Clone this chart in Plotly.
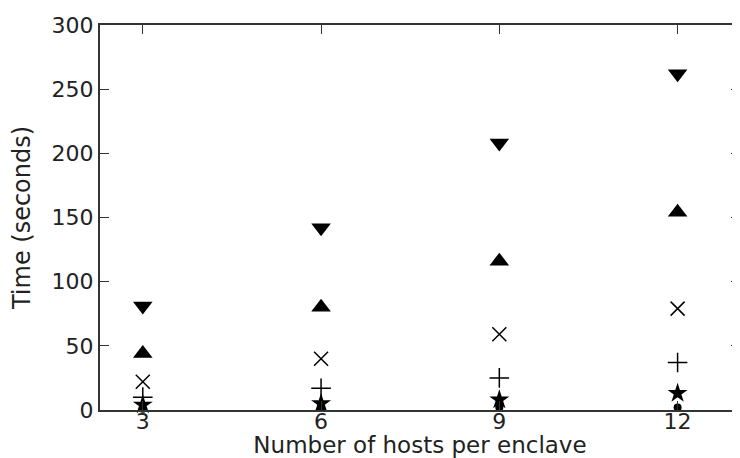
import plotly.graph_objects as go

hosts = [3, 6, 9, 12]
tick_labels = ["3", "6", "9", "12"]
s_down = [81, 142, 208, 262]
s_up = [44, 80, 116, 154]
s_x = [22, 40, 59, 79]
s_plus = [10, 17, 25, 37]
s_star = [4, 5, 8, 13]
s_dot = [1, 1.5, 2, 2]

fig = go.Figure()
series = [
    (s_down, "triangle-down", 17, 0),
    (s_up, "triangle-up", 17, 0),
    (s_x, "x-thin-open", 14, 1.5),
    (s_plus, "cross-thin-open", 14, 1.5),
    (s_star, "star", 15, 0),
    (s_dot, "circle", 8, 0),
]
for vals, sym, size, lw in series:
    fig.add_trace(go.Scatter(
        x=hosts, y=vals, mode="markers",
        marker=dict(symbol=sym, size=size, color="black",
                    line=dict(width=lw, color="black")),
        showlegend=False, cliponaxis=False))

axis_common = dict(
    showgrid=False, zeroline=False, showline=True, linewidth=2, linecolor="#333",
    mirror="ticks", ticks="inside", ticklen=9, tickwidth=1, tickcolor="#333",
    tickfont=dict(family="DejaVu Sans", size=22, color="#222"),
    automargin=False,
)
fig.update_xaxes(range=[2.28, 13.05], tickvals=hosts, ticktext=tick_labels,
                 ticklabelstandoff=-9,
                 title=dict(text="Number of hosts per enclave",
                            font=dict(family="DejaVu Sans", size=23, color="#222"),
                            standoff=7), **axis_common)
fig.update_yaxes(range=[0, 300], tickvals=[0, 50, 100, 150, 200, 250, 300],
                 title=dict(text="Time (seconds)",
                            font=dict(family="DejaVu Sans", size=24, color="#222"),
                            standoff=14), **axis_common)
# page body has an 8px margin, so the figure is sized to fill the rest of the window
fig.update_layout(width=732, height=450, margin=dict(l=92, r=0, t=17, b=48),
                  plot_bgcolor="white", paper_bgcolor="white")
fig.write_html("out.html")
